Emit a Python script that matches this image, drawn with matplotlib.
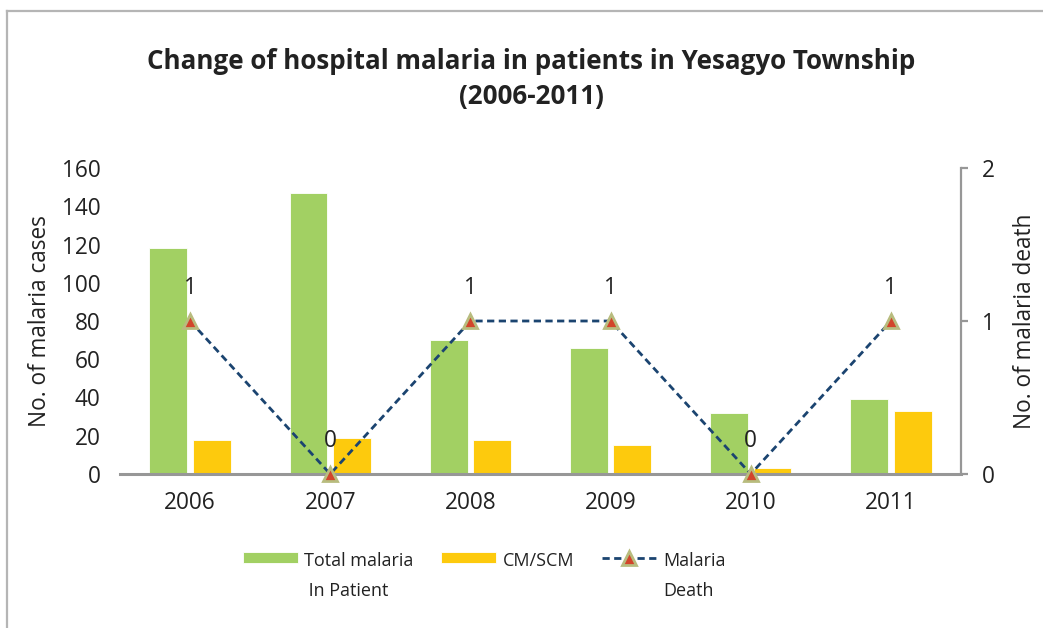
import matplotlib
matplotlib.use("Agg")
import matplotlib.pyplot as plt
from matplotlib.lines import Line2D
import numpy as np

plt.rcParams['font.family'] = ['Open Sans', 'DejaVu Sans']

years = ["2006", "2007", "2008", "2009", "2010", "2011"]
total_inpatient = [118, 147, 70, 66, 32, 39]
cm_scm = [18, 19, 18, 15, 3, 33]
deaths = [1, 0, 1, 1, 0, 1]

title = "Change of hospital malaria in patients in Yesagyo Township\n(2006-2011)"
left_label = "No. of malaria cases"
right_label = "No. of malaria death"
legend_labels = ["Total malaria\n In Patient", "CM/SCM", "Malaria\nDeath"]

GREEN = "#A2D063"
YELLOW = "#FDCA0D"
NAVY = "#1B4470"
GRAY = "#979797"
TXT = "#222222"
FS = 16.3

W, H = 1043, 628
fig = plt.figure(figsize=(W / 100, H / 100), dpi=100)
ax = fig.add_axes([120 / W, 1 - 474 / H, (961 - 120) / W, (474 - 168) / H])

x = np.arange(len(years))
bw = 0.27
off = 0.155
b1 = ax.bar(x - off, total_inpatient, bw, color=GREEN, edgecolor="white", linewidth=0.6, label=legend_labels[0])
b2 = ax.bar(x + off, cm_scm, bw, color=YELLOW, edgecolor="white", linewidth=0.6, label=legend_labels[1])
ax.set_xlim(-0.5, len(years) - 0.5)
ax.set_ylim(0, 160)
ax.set_yticks(np.arange(0, 161, 20))
ax.set_xticks(x)
ax.set_xticklabels(years)

for s in ["top", "left", "right"]:
    ax.spines[s].set_visible(False)
ax.spines["bottom"].set_color(GRAY)
ax.spines["bottom"].set_linewidth(2.2)
ax.tick_params(axis="both", length=0, labelsize=FS, colors=TXT)
ax.tick_params(axis="y", pad=14)
ax.tick_params(axis="x", pad=12)
ax.set_ylabel(left_label, fontsize=FS, color=TXT, labelpad=7)

ax2 = ax.twinx()
ax2.set_ylim(0, 2)
ax2.set_yticks([0, 1, 2])
for s in ["top", "left", "bottom"]:
    ax2.spines[s].set_visible(False)
ax2.spines["right"].set_color(GRAY)
ax2.spines["right"].set_linewidth(1.6)
ax2.tick_params(axis="y", length=5, width=1.6, color=GRAY, labelsize=FS, labelcolor=TXT, pad=10, direction="out")
ax2.set_ylabel(right_label, fontsize=FS, color=TXT, labelpad=13)

ln, = ax2.plot(x, deaths, color=NAVY, linewidth=2.0, dashes=(2.6, 1.6),
               marker="^", markersize=10, markerfacecolor="#D2452B",
               markeredgecolor="#B8BC7E", markeredgewidth=2, label=legend_labels[2],
               clip_on=False, zorder=5)
for xi, d in zip(x, deaths):
    ax2.annotate(str(d), (xi, d), xytext=(0, 24), textcoords="offset points",
                 ha="center", va="center", fontsize=FS, color=TXT)

fig.text(531 / W, 1 - 79 / H, title, ha="center", va="center", fontsize=18.7,
         fontweight="bold", color=TXT, linespacing=1.4)

LFS = 13
leg = fig.legend([b1, b2, ln], legend_labels, loc="upper left",
                 bbox_to_anchor=(243 / W, 1 - 552 / H), ncol=3, frameon=False,
                 fontsize=LFS, handlelength=3.05, handletextpad=0.33,
                 columnspacing=1.55, labelcolor=TXT, borderpad=0, borderaxespad=0,
                 handleheight=0.6)
for t in leg.get_texts():
    t.set_linespacing(1.85)
leg._legend_handle_box.align = "top"
for col in leg._legend_handle_box.get_children():
    for row in col.get_children():
        row.align = "top"

fig.add_artist(Line2D([7 / W, 7 / W], [0, 1 - 11 / H], transform=fig.transFigure,
                      color="#B5B5B5", linewidth=1.6))
fig.add_artist(Line2D([7 / W, 1], [1 - 11 / H, 1 - 11 / H], transform=fig.transFigure,
                      color="#B5B5B5", linewidth=1.6))

fig.savefig("out.png", dpi=100)
